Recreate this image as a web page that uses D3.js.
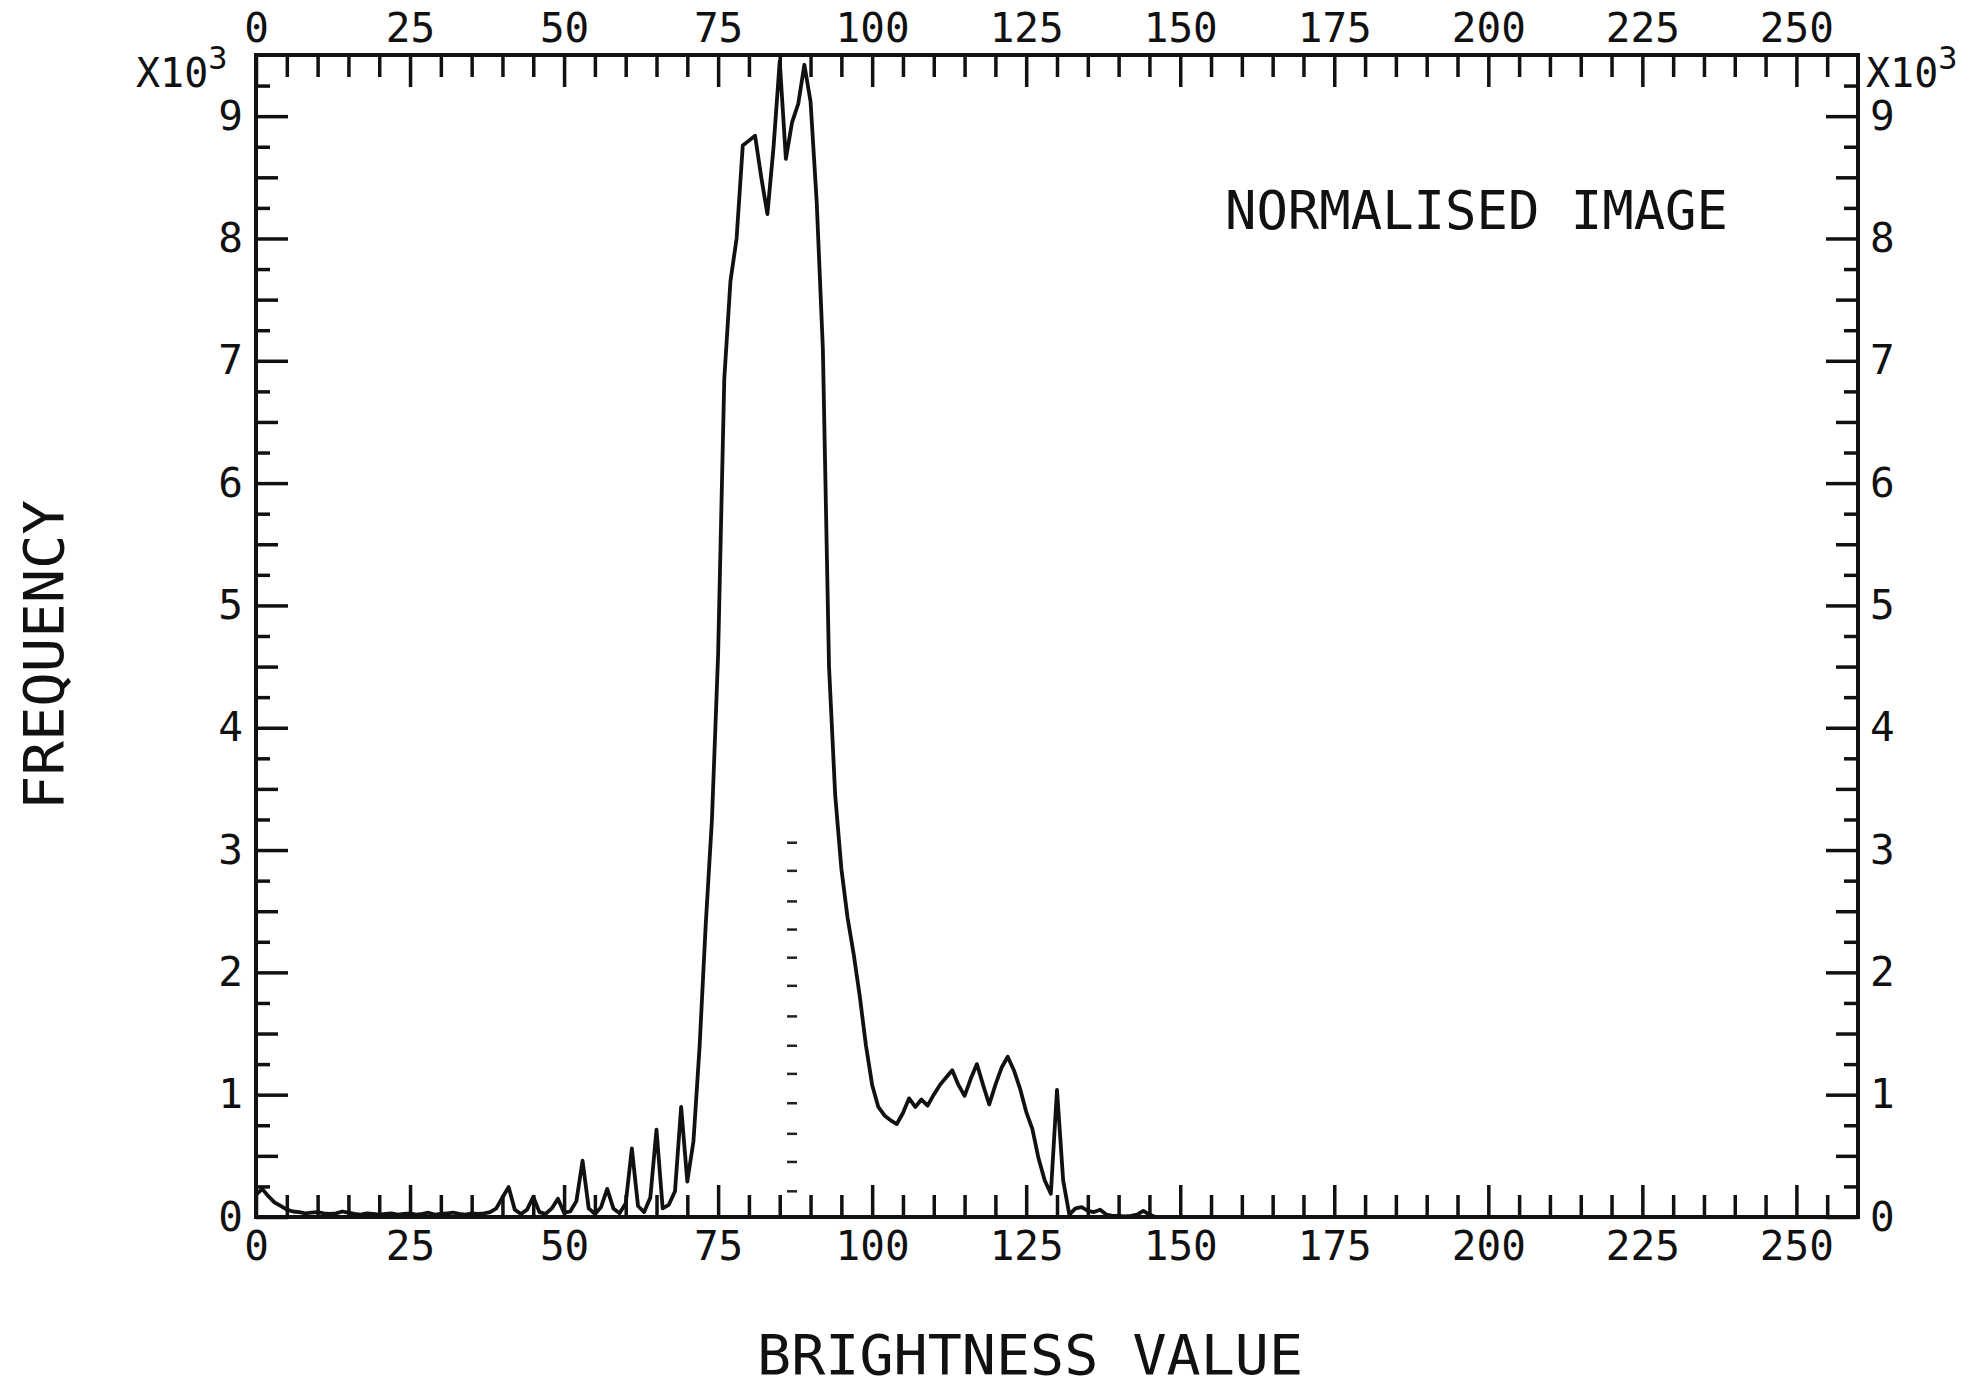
<!DOCTYPE html>
<html>
<head>
<meta charset="utf-8">
<script src="https://cdn.jsdelivr.net/npm/d3@7"></script>
<style>
body { margin: 0; background: #fff; }
text { font-family: "DejaVu Sans Mono", monospace; fill: #111; }
</style>
</head>
<body>
<div id="chart"></div>
<script>
// frequency (counts) per brightness value 0..150; 151..255 are empty
var brightness = d3.range(0, 151)
var frequency = [
	180, 230, 170, 120, 90, 60, 45, 40, 30, 35,
	40, 30, 25, 30, 45, 35, 25, 20, 30, 25,
	20, 25, 30, 20, 25, 30, 20, 25, 35, 20,
	25, 30, 35, 25, 20, 30, 25, 30, 40, 70,
	160, 245, 60, 25, 60, 165, 40, 25, 70, 150,
	35, 45, 130, 460, 70, 25, 80, 230, 70, 30,
	110, 560, 90, 40, 160, 715, 70, 100, 210, 900,
	290, 620, 1400, 2400, 3250, 4600, 6850, 7650, 8000, 8760,
	8800, 8840, 8500, 8200, 8750, 9450, 8650, 8950, 9100, 9420,
	9120, 8300, 7100, 4500, 3450, 2850, 2450, 2150, 1800, 1400,
	1080, 900, 830, 790, 760, 850, 970, 900, 960, 910,
	1000, 1080, 1140, 1200, 1080, 990, 1130, 1250, 1080, 920,
	1080, 1220, 1310, 1200, 1050, 860, 720, 480, 300, 190,
	1040, 300, 20, 70, 80, 50, 40, 60, 20, 10,
	10, 5, 10, 20, 50, 20, 0, 0, 0, 0,
	0
]

// dotted marker column near brightness 87
var markerBrightness = 87
var markerLevels = [210, 450, 680, 930, 1170, 1400, 1640, 1890, 2120, 2350, 2580, 2830, 3060]

var xMajorTicks = [0, 25, 50, 75, 100, 125, 150, 175, 200, 225, 250]
var xMinorTicks = d3.range(5, 260, 5).filter(function(d){ return d % 25 != 0 })
var yMajorTicks = [0, 1000, 2000, 3000, 4000, 5000, 6000, 7000, 8000, 9000]
var yHalfTicks = [500, 1500, 2500, 3500, 4500, 5500, 6500, 7500, 8500]
var yQuarterTicks = [250, 750, 1250, 1750, 2250, 2750, 3250, 3750, 4250, 4750, 5250, 5750, 6250, 6750, 7250, 7750, 8250, 8750, 9250]

var width = 1984
var height = 1386
var plotLeft = 256, plotRight = 1858, plotTop = 55, plotBottom = 1217

var x = d3.scaleLinear().domain([0, 260]).range([plotLeft, plotRight])
var y = d3.scaleLinear().domain([0, 9500]).range([plotBottom, plotTop])

var svg = d3.select("#chart").append("svg")
	.attr("width", width).attr("height", height)

svg.append("rect").attr("width", width).attr("height", height).attr("fill", "#fff")

function styleAxis(g){
	g.select(".domain").remove()
	g.selectAll("line").attr("stroke", "#111").attr("stroke-width", 3.5)
	g.selectAll("text").attr("font-size", 41).attr("fill", "#111")
		.style("font-family", "'DejaVu Sans Mono', monospace")
}

// top axis
svg.append("g").attr("transform", "translate(0," + plotTop + ")")
	.call(d3.axisTop(x).tickValues(xMinorTicks).tickSize(-22).tickFormat(""))
	.call(styleAxis)
svg.append("g").attr("transform", "translate(0," + plotTop + ")")
	.call(d3.axisTop(x).tickValues(xMajorTicks).tickSize(-32).tickPadding(13))
	.call(styleAxis)

// bottom axis
svg.append("g").attr("transform", "translate(0," + plotBottom + ")")
	.call(d3.axisBottom(x).tickValues(xMinorTicks).tickSize(-22).tickFormat(""))
	.call(styleAxis)
svg.append("g").attr("transform", "translate(0," + plotBottom + ")")
	.call(d3.axisBottom(x).tickValues(xMajorTicks).tickSize(-32).tickPadding(14))
	.call(styleAxis)

// left + right axes
var yFormat = function(d){ return d / 1000 }
svg.append("g").attr("transform", "translate(" + plotLeft + ",0)")
	.call(d3.axisLeft(y).tickValues(yQuarterTicks).tickSize(-14).tickFormat(""))
	.call(styleAxis)
svg.append("g").attr("transform", "translate(" + plotLeft + ",0)")
	.call(d3.axisLeft(y).tickValues(yHalfTicks).tickSize(-22).tickFormat(""))
	.call(styleAxis)
svg.append("g").attr("transform", "translate(" + plotLeft + ",0)")
	.call(d3.axisLeft(y).tickValues(yMajorTicks).tickSize(-32).tickPadding(13).tickFormat(yFormat))
	.call(styleAxis)

svg.append("g").attr("transform", "translate(" + plotRight + ",0)")
	.call(d3.axisRight(y).tickValues(yQuarterTicks).tickSize(-14).tickFormat(""))
	.call(styleAxis)
svg.append("g").attr("transform", "translate(" + plotRight + ",0)")
	.call(d3.axisRight(y).tickValues(yHalfTicks).tickSize(-22).tickFormat(""))
	.call(styleAxis)
svg.append("g").attr("transform", "translate(" + plotRight + ",0)")
	.call(d3.axisRight(y).tickValues(yMajorTicks).tickSize(-32).tickPadding(12).tickFormat(yFormat))
	.call(styleAxis)

// frame
svg.append("rect")
	.attr("x", plotLeft).attr("y", plotTop)
	.attr("width", plotRight - plotLeft).attr("height", plotBottom - plotTop)
	.attr("fill", "none").attr("stroke", "#111").attr("stroke-width", 4)

// x10^3 multipliers
function multiplier(xpos){
	var t = svg.append("text").attr("x", xpos).attr("y", 87).attr("font-size", 40)
	t.append("tspan").text("X10")
	t.append("tspan").text("3").attr("dy", -18).attr("font-size", 32)
}
multiplier(136)
multiplier(1866)

// histogram line
var line = d3.line()
	.x(function(d, i){ return x(brightness[i]) })
	.y(function(d){ return y(d) })
svg.append("path")
	.attr("d", line(frequency))
	.attr("fill", "none")
	.attr("stroke", "#111")
	.attr("stroke-width", 3.8)
	.attr("stroke-linejoin", "round")

// dotted marker
svg.selectAll(".marker").data(markerLevels).enter().append("line")
	.attr("class", "marker")
	.attr("x1", x(markerBrightness) - 5).attr("x2", x(markerBrightness) + 5)
	.attr("y1", function(d){ return y(d) }).attr("y2", function(d){ return y(d) })
	.attr("stroke", "#222").attr("stroke-width", 2.5)

// labels
svg.append("text").text("NORMALISED  IMAGE")
	.attr("x", 1225).attr("y", 229)
	.attr("font-size", 53)
	.attr("textLength", 503).attr("lengthAdjust", "spacingAndGlyphs")

svg.append("text").text("BRIGHTNESS VALUE")
	.attr("x", 757).attr("y", 1374)
	.attr("font-size", 56)
	.attr("textLength", 546).attr("lengthAdjust", "spacingAndGlyphs")

svg.append("text").text("FREQUENCY")
	.attr("transform", "translate(63,655) rotate(-90)")
	.attr("text-anchor", "middle")
	.attr("font-size", 56)
	.attr("textLength", 310).attr("lengthAdjust", "spacingAndGlyphs")
</script>
</body>
</html>
